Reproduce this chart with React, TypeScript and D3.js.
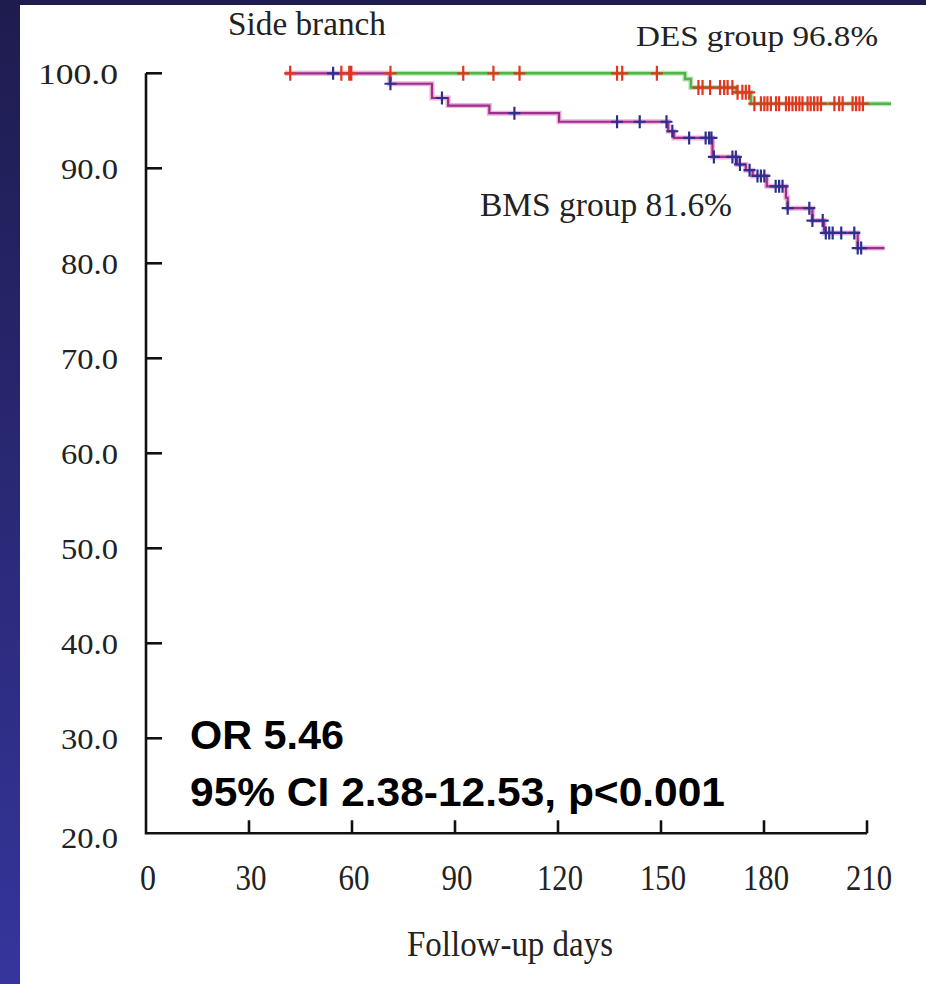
import React from 'react';
import * as d3 from 'd3';

// Kaplan-Meier steps: [day, survival %] (value holds from that day on)
const desSteps: [number, number][] = [
  [40.5, 100], [157.0, 99.4], [158.7, 98.5], [171.8, 98.0], [176.2, 96.8],
];
const desEnd = 217;
const desCensored = [
  42.0, 56.9, 59.2, 59.8, 71.2, 92.4, 101.2, 108.8, 137.2, 138.7, 148.8,
  160.9, 162.1, 164.3, 167.2, 168.4, 169.4, 170.8, 172.3, 173.7, 174.7, 175.7,
  177.2, 179.1, 180.1, 181.0, 182.0, 183.5, 184.4, 186.4, 187.3, 188.3, 189.3,
  190.3, 191.2, 192.7, 193.6, 194.6, 195.6, 196.6, 200.5, 201.9, 202.9, 205.8,
  206.8, 207.8, 208.8,
];

const bmsSteps: [number, number][] = [
  [40.5, 100], [71.0, 98.9], [83.3, 97.4], [88.0, 96.6], [100.0, 95.8],
  [120.3, 94.9], [152.1, 93.9], [153.8, 93.2], [165.0, 91.2], [172.2, 90.4],
  [174.7, 89.8], [176.7, 89.2], [180.8, 88.1], [186.4, 86.9], [186.9, 85.8],
  [194.1, 84.5], [197.5, 83.2], [207.3, 81.6],
];
const bmsEnd = 215.1;
const bmsCensored = [
  54.5, 71.2, 86.2, 107.3, 137.2, 143.8, 151.6, 153.3, 158.2, 163.0, 164.0,
  164.7, 165.4, 170.8, 171.8, 173.0, 175.8, 178.1, 179.1, 180.1, 183.4, 184.4,
  185.4, 186.9, 193.2, 194.1, 197.1, 198.0, 199.0, 200.0, 202.5, 206.3, 207.3,
  208.3,
];

const xTicks = [0, 30, 60, 90, 120, 150, 180, 210];
const yTicks = [20, 30, 40, 50, 60, 70, 80, 90, 100];

const W = 926;
const H = 984;

const x = d3.scaleLinear().domain([0, 210]).range([146, 867]);
const y = d3.scaleLinear().domain([20, 100]).range([833.3, 73.3]);

const valueAt = (steps: [number, number][], day: number) => {
  let v = steps[0][1];
  for (const s of steps) if (s[0] <= day) v = s[1];
  return v;
};

const line = d3.line<[number, number]>()
  .x(d => x(d[0]))
  .y(d => y(d[1]))
  .curve(d3.curveStepAfter);

const crossPath = (days: number[], steps: [number, number][], hw: number, hh: number) =>
  days.map(d => {
    const cx = x(d);
    const cy = y(valueAt(steps, d));
    return `M${cx - hw},${cy}H${cx + hw}M${cx},${cy - hh}V${cy + hh}`;
  }).join('');

export default function App() {
  const desLine = line([...desSteps, [desEnd, desSteps[desSteps.length - 1][1]]]) || '';
  const bmsLine = line([...bmsSteps, [bmsEnd, bmsSteps[bmsSteps.length - 1][1]]]) || '';
  const serif = '"Liberation Serif", "Times New Roman", serif';
  const sans = '"Liberation Sans", Arial, sans-serif';

  return (
    <svg width={W} height={H} style={{ position: 'absolute', left: 0, top: 0 }}>
      <defs>
        <linearGradient id="bg" x1="0" y1="0" x2="0" y2="1">
          <stop offset="0" stopColor="#1e1c4e" />
          <stop offset="1" stopColor="#35359c" />
        </linearGradient>
      </defs>
      <rect x={0} y={0} width={W} height={H} fill="url(#bg)" />
      <rect x={20} y={5} width={W - 20} height={H - 5} fill="#ffffff" />

      {/* axes */}
      <g stroke="#111" strokeWidth={2.6} fill="none">
        <path d={`M${x(0)},${y(100)}V${y(20)}H${x(210)}`} />
        {yTicks.filter(t => t > 20).map(t => (
          <line key={t} x1={x(0)} x2={x(0) + 16} y1={y(t)} y2={y(t)} />
        ))}
        {xTicks.filter(t => t > 0).map(t => (
          <line key={t} x1={x(t)} x2={x(t)} y1={y(20)} y2={y(20) - 13} />
        ))}
      </g>

      <g fontFamily={serif} fontSize={30} fill="#222" textAnchor="end">
        {yTicks.map(t => (
          <text key={t} x={118} y={y(t) + (t === 20 ? 15 : 11)}
            textLength={t === 100 ? 80 : 57} lengthAdjust="spacingAndGlyphs">
            {t.toFixed(1)}
          </text>
        ))}
      </g>
      <g fontFamily={serif} fontSize={35} fill="#222" textAnchor="middle">
        {xTicks.map(t => (
          <text key={t} x={x(t) + 2} y={890} textLength={t === 0 ? 16 : t < 100 ? 31 : 46}
            lengthAdjust="spacingAndGlyphs">{t}</text>
        ))}
        <text x={510} y={956} textLength={206} lengthAdjust="spacingAndGlyphs">Follow-up days</text>
      </g>

      {/* curves */}
      <path d={desLine} fill="none" stroke="#bfe3b8" strokeWidth={5} />
      <path d={desLine} fill="none" stroke="#4cb648" strokeWidth={2.4} />
      <path d={bmsLine} fill="none" stroke="#ecb3d8" strokeWidth={5} />
      <path d={bmsLine} fill="none" stroke="#9c2f8c" strokeWidth={2.2} />
      <path d={crossPath(desCensored, desSteps, 6, 7.5)} fill="none" stroke="#e2341f" strokeWidth={2.2} />
      <path d={crossPath(bmsCensored, bmsSteps, 6, 6.5)} fill="none" stroke="#2d2f8e" strokeWidth={2.2} />

      {/* annotations */}
      <g fontFamily={serif} fill="#222">
        <text x={228} y={35} fontSize={33} textLength={158} lengthAdjust="spacingAndGlyphs">Side branch</text>
        <text x={636} y={46} fontSize={30} textLength={242} lengthAdjust="spacingAndGlyphs">DES group 96.8%</text>
        <text x={480} y={216} fontSize={33} textLength={252} lengthAdjust="spacingAndGlyphs">BMS group 81.6%</text>
      </g>
      <g fontFamily={sans} fontWeight="bold" fill="#000" fontSize={40}>
        <text x={190} y={749} textLength={154} lengthAdjust="spacingAndGlyphs">OR 5.46</text>
        <text x={190} y={806} textLength={535} lengthAdjust="spacingAndGlyphs">95% CI 2.38-12.53, p&lt;0.001</text>
      </g>
    </svg>
  );
}
